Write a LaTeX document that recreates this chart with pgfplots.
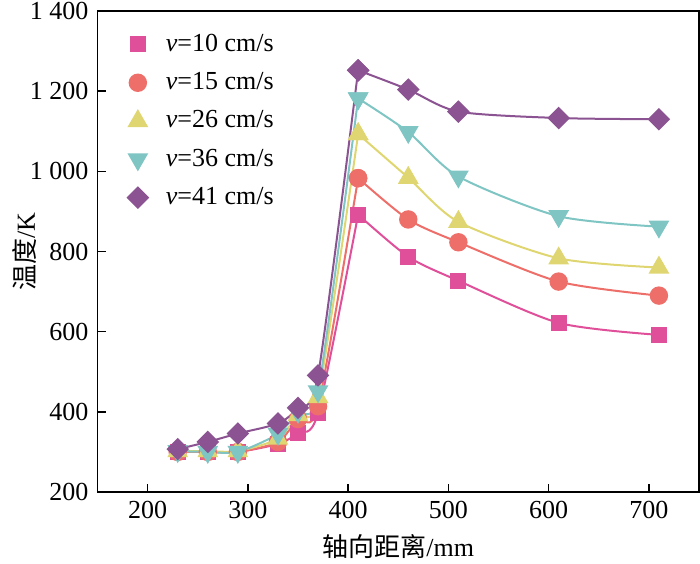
\documentclass[border=0pt]{standalone}
\usepackage{fontspec}
\setmainfont{Liberation Serif}
\newfontfamily\cjk{Noto Sans CJK SC}
\usepackage{pgfplots}
\pgfplotsset{compat=1.18}
\usetikzlibrary{calc}
\definecolor{cpink}{HTML}{E0509A}
\definecolor{cred}{HTML}{EE6E6A}
\definecolor{cyel}{HTML}{DFD672}
\definecolor{ccyan}{HTML}{7EC5C3}
\definecolor{cpur}{HTML}{8B5391}
\pgfplotsset{
 spink/.style={cpink, mark=square*, mark size=3.5pt, mark options={solid, fill=cpink, draw=cpink}},
 sred/.style={cred, mark=*, mark size=4.1pt, mark options={solid, fill=cred, draw=cred}},
 syel/.style={cyel, mark=triangle*, mark size=5pt, mark options={solid, fill=cyel, draw=cyel}},
 scyan/.style={ccyan, mark=triangle*, mark size=5pt, mark options={solid, rotate=180, fill=ccyan, draw=ccyan}},
 spur/.style={cpur, mark=square*, mark size=3.5pt, mark options={solid, rotate=45, fill=cpur, draw=cpur}},
}
\begin{document}
\fontsize{13}{15}\selectfont
\begin{tikzpicture}
\begin{axis}[
 scale only axis, width=300.75pt, height=240.5pt,
 xmin=150, xmax=750, ymin=200, ymax=1400,
 xtick={200,300,...,700}, ytick={200,400,...,1400},
 tick pos=left, tick align=inside, major tick length=4pt,
 axis line style={line width=0.8pt},
 every tick/.style={line width=0.8pt, black},
 /pgf/number format/assume math mode=true,
 /pgf/number format/1000 sep={\ },
 ticklabel style={font=\fontsize{13}{15}\selectfont},
 xlabel={{\cjk 轴向距离}/mm}, ylabel={{\cjk 温度}/K},
 every axis x label/.style={at={(axis description cs:0.5,-0.1143)}, anchor=center},
 every axis y label/.style={at={(axis description cs:-0.1205,0.5)}, anchor=center, rotate=90},
 label style={font=\fontsize{13}{15}\selectfont},
 legend style={draw=none, fill=none, at={(0.04,0.97)}, anchor=north west,
   font=\fontsize{13}{15}\selectfont, row sep=4.6pt},
 legend cell align=left,
 legend image code/.code={\draw[#1] plot[only marks] coordinates {(0.3cm,0cm)}; \path (0.3cm+11.5pt,0cm);},
 every axis plot/.append style={line width=1pt, smooth, tension=0.45},
]
\addplot[spink] coordinates {
(230,300) (260,300) (290,300) (330,320) (350,347) (370,398) (410,892)};
\addlegendentry{\textit{v}=10 cm/s}
\addplot[sred] coordinates {
(230,300) (260,300) (290,300) (330,325) (350,382) (370,414) (410,983)};
\addlegendentry{\textit{v}=15 cm/s}
\addplot[syel] coordinates {
(230,302) (260,302) (290,302) (330,333) (350,392) (370,437) (410,1093)};
\addlegendentry{\textit{v}=26 cm/s}
\addplot[scyan] coordinates {
(230,302) (260,300) (290,300) (330,345) (350,400) (370,451) (410,1182)};
\addlegendentry{\textit{v}=36 cm/s}
\addplot[spur] coordinates {
(230,307) (260,325) (290,346) (330,371) (350,410) (370,491) (410,1252)};
\addlegendentry{\textit{v}=41 cm/s}
\addplot[spink, forget plot] coordinates {
(410,892) (460,787) (510,727) (610,622) (710,592)};
\addplot[sred, forget plot] coordinates {
(410,983) (460,880) (510,823) (610,725) (710,690)};
\addplot[syel, forget plot] coordinates {
(410,1093) (460,984) (510,874) (610,783) (710,760)};
\addplot[scyan, forget plot] coordinates {
(410,1182) (460,1098) (510,987) (610,888) (710,862)};
\addplot[spur, forget plot] coordinates {
(410,1252) (460,1204) (510,1149) (610,1133) (710,1130)};
\end{axis}
\pgfresetboundingbox
\path ($(current axis.south west)+(-48.75pt,-35.75pt)$) rectangle ($(current axis.north east)+(0.5pt,5.5pt)$);
\end{tikzpicture}
\end{document}
